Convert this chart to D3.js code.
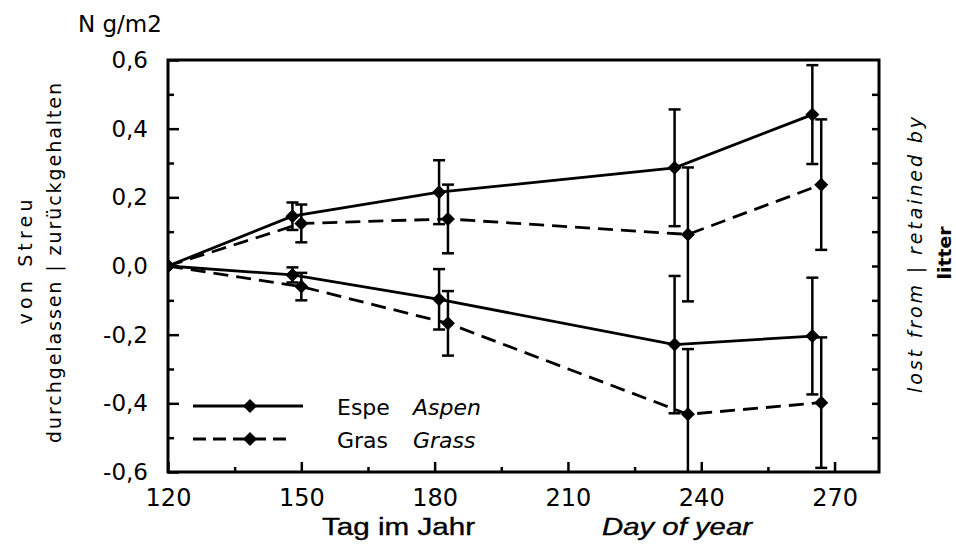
<!DOCTYPE html>
<html>
<head>
<meta charset="utf-8">
<script src="https://cdn.jsdelivr.net/npm/d3@7"></script>
<style>
  html, body { margin: 0; padding: 0; background: #fff; }
  svg { display: block; }
  text { fill: #000; }
</style>
</head>
<body>
<svg id="chart" width="956" height="544"></svg>
<script>
// data (day of year, N g/m2)
const espeDays = [120, 148, 181, 234, 265];
const grasDays = [120, 150, 183, 237, 267];

const espeRetained = [0, 0.145, 0.215, 0.286, 0.441];
const espeRetainedErr = [0, 0.04, 0.093, 0.17, 0.144];
const grasRetained = [0, 0.124, 0.137, 0.092, 0.237];
const grasRetainedErr = [0, 0.055, 0.10, 0.195, 0.19];

const espeLost = [0, -0.026, -0.097, -0.229, -0.204];
const espeLostErr = [0, 0.022, 0.088, 0.20, 0.17];
const grasLost = [0, -0.060, -0.167, -0.432, -0.398];
const grasLostErr = [0, 0.04, 0.094, 0.19, 0.19];

const xMajorTicks = [120, 150, 180, 210, 240, 270];
const xMinorTicks = [135, 165, 195, 225, 255];
const yMajorTicks = [-0.6, -0.4, -0.2, 0, 0.2, 0.4, 0.6];
const yMinorTicks = [-0.5, -0.3, -0.1, 0.1, 0.3, 0.5];
const yRightTicks = [-0.5, -0.4, -0.3, -0.2, -0.1, 0, 0.1, 0.2, 0.3, 0.4, 0.5];

const legendItems = [
  { de: "Espe", en: "Aspen", dashed: false },
  { de: "Gras", en: "Grass", dashed: true }
];

// setup
const svg = d3.select("#chart");
const plot = { left: 168, right: 879, top: 60, bottom: 472 };
const FONT = "'DejaVu Sans', Verdana, sans-serif";

const x = d3.scaleLinear().domain([120, 280]).range([plot.left, plot.right]);
const y = d3.scaleLinear().domain([-0.6, 0.6]).range([plot.bottom, plot.top]);

const de = d3.formatLocale({ decimal: ",", thousands: ".", grouping: [3], currency: ["", "€"], minus: "-" });
const fmt = de.format(".1f");

svg.append("clipPath").attr("id", "plot-clip")
  .append("rect")
  .attr("x", plot.left).attr("y", plot.top)
  .attr("width", plot.right - plot.left).attr("height", plot.bottom - plot.top);

// axes
function styleAxis(g, fontSize) {
  g.select(".domain").remove();
  g.selectAll(".tick line").attr("stroke", "#000").attr("stroke-width", 2.5);
  g.selectAll(".tick text").attr("font-family", FONT).attr("font-size", fontSize).attr("fill", "#000");
}

svg.append("g")
  .attr("transform", `translate(0,${plot.bottom})`)
  .call(d3.axisBottom(x).tickValues(xMajorTicks).tickSize(-10).tickPadding(17).tickFormat(d3.format("d")))
  .call(g => styleAxis(g, 24));

svg.append("g")
  .attr("transform", `translate(0,${plot.bottom})`)
  .call(d3.axisBottom(x).tickValues(xMinorTicks).tickSize(-5).tickFormat(""))
  .call(g => styleAxis(g, 24));

svg.append("g")
  .attr("transform", `translate(${plot.left},0)`)
  .call(d3.axisLeft(y).tickValues(yMajorTicks).tickSize(-11).tickPadding(20).tickFormat(fmt))
  .call(g => styleAxis(g, 23));

svg.append("g")
  .attr("transform", `translate(${plot.left},0)`)
  .call(d3.axisLeft(y).tickValues(yMinorTicks).tickSize(-6).tickFormat(""))
  .call(g => styleAxis(g, 23));

svg.append("g")
  .attr("transform", `translate(${plot.right},0)`)
  .call(d3.axisRight(y).tickValues(yRightTicks).tickSize(-7).tickFormat(""))
  .call(g => styleAxis(g, 23));

// frame
svg.append("rect")
  .attr("x", plot.left).attr("y", plot.top)
  .attr("width", plot.right - plot.left).attr("height", plot.bottom - plot.top)
  .attr("fill", "none").attr("stroke", "#000").attr("stroke-width", 3);

// series
const diamond = {
  draw(ctx, size) {
    const r = Math.sqrt(size) / 2;
    ctx.moveTo(0, -r); ctx.lineTo(r, 0); ctx.lineTo(0, r); ctx.lineTo(-r, 0); ctx.closePath();
  }
};
const marker = d3.symbol().type(diamond).size(196);

const series = [
  { days: espeDays, vals: espeRetained, errs: espeRetainedErr, dashed: false },
  { days: espeDays, vals: espeLost, errs: espeLostErr, dashed: false },
  { days: grasDays, vals: grasRetained, errs: grasRetainedErr, dashed: true },
  { days: grasDays, vals: grasLost, errs: grasLostErr, dashed: true }
];

const layer = svg.append("g").attr("clip-path", "url(#plot-clip)");

series.forEach(s => {
  const pts = s.days.map((d, i) => ({ day: d, v: s.vals[i], e: s.errs[i] }));
  const line = d3.line().x(d => x(d.day)).y(d => y(d.v));

  layer.append("path")
    .attr("d", line(pts))
    .attr("fill", "none")
    .attr("stroke", "#000")
    .attr("stroke-width", 2.8)
    .attr("stroke-dasharray", s.dashed ? "15,8" : null);

  const bars = layer.selectAll(null)
    .data(pts.filter(d => d.e > 0))
    .enter().append("g")
    .attr("stroke", "#000").attr("stroke-width", 2.5);
  bars.append("line")
    .attr("x1", d => x(d.day)).attr("x2", d => x(d.day))
    .attr("y1", d => y(d.v + d.e)).attr("y2", d => y(d.v - d.e));
  bars.append("line")
    .attr("x1", d => x(d.day) - 6).attr("x2", d => x(d.day) + 6)
    .attr("y1", d => y(d.v + d.e)).attr("y2", d => y(d.v + d.e));
  bars.append("line")
    .attr("x1", d => x(d.day) - 6).attr("x2", d => x(d.day) + 6)
    .attr("y1", d => y(d.v - d.e)).attr("y2", d => y(d.v - d.e));

  layer.selectAll(null)
    .data(pts)
    .enter().append("path")
    .attr("d", marker)
    .attr("transform", d => `translate(${x(d.day)},${y(d.v)})`)
    .attr("fill", "#000");
});

// legend
const legend = svg.append("g");
legendItems.forEach((item, i) => {
  const ly = 406 + i * 33;
  legend.append("line")
    .attr("x1", 193).attr("x2", item.dashed ? 292 : 303)
    .attr("y1", ly).attr("y2", ly)
    .attr("stroke", "#000").attr("stroke-width", 2.8)
    .attr("stroke-dasharray", item.dashed ? "13,7" : null);
  legend.append("path")
    .attr("d", marker)
    .attr("transform", `translate(250,${ly})`)
    .attr("fill", "#000");
  legend.append("text")
    .attr("x", 337).attr("y", ly + 9)
    .attr("font-family", FONT).attr("font-size", 22)
    .text(item.de);
  legend.append("text")
    .attr("x", 413).attr("y", ly + 9)
    .attr("font-family", FONT).attr("font-size", 22).attr("font-style", "italic")
    .text(item.en);
});

// titles
svg.append("text")
  .attr("x", 78).attr("y", 32)
  .attr("font-family", FONT).attr("font-size", 23)
  .text("N g/m2");

svg.append("text")
  .attr("x", 322).attr("y", 535)
  .attr("font-family", "'Liberation Sans', Arial, sans-serif").attr("font-size", 23)
  .attr("stroke", "#000").attr("stroke-width", 0.35)
  .attr("textLength", 153).attr("lengthAdjust", "spacingAndGlyphs")
  .text("Tag im Jahr");

svg.append("text")
  .attr("x", 602).attr("y", 535)
  .attr("font-family", "'Liberation Sans', Arial, sans-serif").attr("font-size", 23)
  .attr("font-style", "italic")
  .attr("stroke", "#000").attr("stroke-width", 0.35)
  .attr("textLength", 150).attr("lengthAdjust", "spacingAndGlyphs")
  .text("Day of year");

function sideLabel(cx, baseline, txt, len, opts = {}) {
  svg.append("text")
    .attr("transform", `translate(${baseline},${cx}) rotate(-90)`)
    .attr("text-anchor", "middle")
    .attr("font-family", FONT)
    .attr("font-size", opts.size || 19)
    .attr("font-style", opts.italic ? "italic" : null)
    .attr("font-weight", opts.bold ? "bold" : null)
    .attr("textLength", len).attr("lengthAdjust", opts.adjust || "spacing")
    .text(txt);
}

sideLabel(262, 32, "von Streu", 125);
sideLabel(263, 61, "durchgelassen | zurückgehalten", 360);
sideLabel(255, 922, "lost from | retained by", 276, { italic: true });
sideLabel(253, 951, "litter", 53, { bold: true, size: 17, adjust: "spacingAndGlyphs" });
</script>
</body>
</html>
